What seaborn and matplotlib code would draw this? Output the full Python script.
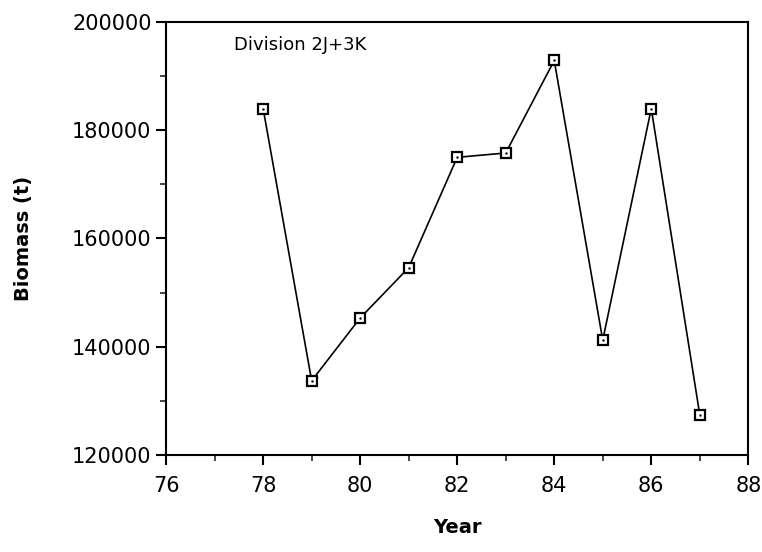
import matplotlib
matplotlib.use("Agg")
import matplotlib.pyplot as plt
import seaborn as sns
import pandas as pd
from matplotlib.ticker import MultipleLocator

years = [78, 79, 80, 81, 82, 83, 84, 85, 86, 87]
biomass = [184000, 133700, 145300, 154600, 175000, 175800, 192900, 141200, 184000, 127400]
x_ticks = [76, 78, 80, 82, 84, 86, 88]
y_ticks = [120000, 140000, 160000, 180000, 200000]
label_text = "Division 2J+3K"

sns.set_style("ticks")
plt.rcParams['font.family'] = ['DejaVu Sans']
plt.rcParams['text.color'] = 'black'
plt.rcParams['axes.labelcolor'] = 'black'

df = pd.DataFrame({"Year": years, "Biomass": biomass})

fig = plt.figure(figsize=(7.62, 5.52), dpi=100)
ax = fig.add_axes([0.218, 0.176, 0.764, 0.784])

sns.lineplot(data=df, x="Year", y="Biomass", ax=ax, color="black", linewidth=1.2,
             marker="s", markersize=7.5, markerfacecolor="white",
             markeredgecolor="black", markeredgewidth=1.6)
sns.scatterplot(data=df, x="Year", y="Biomass", ax=ax, color="black", s=3,
                linewidth=0, zorder=5)

ax.set_xlim(76, 88)
ax.set_ylim(120000, 200000)
ax.set_xticks(x_ticks)
ax.set_yticks(y_ticks)
ax.xaxis.set_minor_locator(MultipleLocator(1))
ax.yaxis.set_minor_locator(MultipleLocator(10000))
ax.tick_params(axis="both", which="major", direction="out", length=7, width=1.5,
               labelsize=15, colors="black")
ax.tick_params(axis="x", which="major", pad=8)
ax.tick_params(axis="both", which="minor", direction="out", length=4, width=1.2)
for s in ax.spines.values():
    s.set_linewidth(1.5)
    s.set_color("black")

ax.set_xlabel("Year", fontsize=14, fontweight="bold", labelpad=16)
ax.set_ylabel("Biomass (t)", fontsize=14, fontweight="bold", labelpad=28)
ax.text(77.4, 195800, label_text, fontsize=13, ha="left", va="center")

fig.savefig("out.png", dpi=100)
